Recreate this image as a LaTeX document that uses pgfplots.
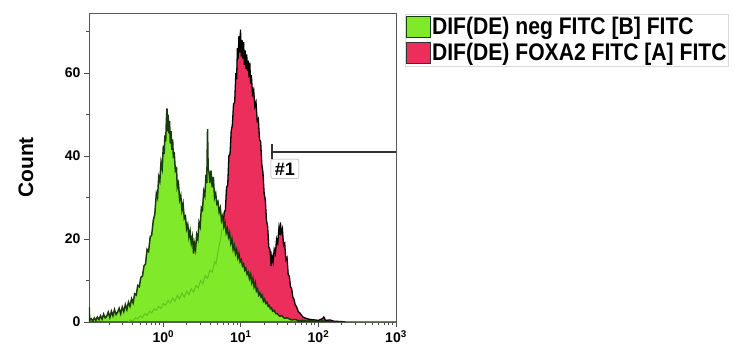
\documentclass[border=0pt]{standalone}
\usepackage{fontspec}
\setmainfont{Liberation Sans}
\newfontfamily\condsans{Liberation Sans}[FakeStretch=0.88]
\usepackage{pgfplots}
\pgfplotsset{compat=1.18}
\usepackage{pgfplotstable}
\definecolor{fgreen}{RGB}{128,234,42}
\definecolor{fgreenline}{RGB}{26,60,12}
\definecolor{fgreenfaint}{RGB}{96,196,30}
\definecolor{fred}{RGB}{236,46,92}

% log10 of FITC intensity (L) and count (v)
\pgfplotstableread{
L v
-0.958 0
-0.955 3.5
-0.950 0.4
-0.93 0.8
-0.91 0.3
-0.89 1.0
-0.87 0.4
-0.85 1.2
-0.83 0.6
-0.81 1.5
-0.79 0.7
-0.77 1.9
-0.75 1.0
-0.73 1.4
-0.71 2.4
-0.69 1.1
-0.67 2.6
-0.65 1.5
-0.63 3.0
-0.61 1.8
-0.59 2.4
-0.57 3.3
-0.55 2.0
-0.53 3.6
-0.51 2.5
-0.49 4.2
-0.47 3.0
-0.45 4.8
-0.43 3.8
-0.41 5.6
-0.39 4.6
-0.37 6.8
-0.35 6.5
-0.33 8.8
-0.31 8.5
-0.29 10.8
-0.27 11.0
-0.25 13.5
-0.23 14.0
-0.21 17.5
-0.19 17.0
-0.17 20.5
-0.15 21.0
-0.13 24.5
-0.11 26.0
-0.09 31.0
-0.075 30.0
-0.06 35.0
-0.045 34.0
-0.03 38.5
-0.015 37.0
0.00 42.5
0.01 40.5
0.02 45.0
0.03 43.5
0.04 49.0
0.047 51.5
0.055 46.0
0.062 50.0
0.07 45.5
0.08 48.5
0.09 43.0
0.10 46.0
0.11 41.5
0.12 44.0
0.13 39.5
0.14 41.0
0.155 36.5
0.17 37.0
0.18 32.5
0.195 33.5
0.21 29.5
0.225 30.5
0.24 27.0
0.255 28.5
0.27 25.0
0.285 25.5
0.30 22.5
0.315 23.5
0.33 20.5
0.345 22.0
0.36 19.0
0.375 20.5
0.39 16.5
0.40 19.0
0.415 17.5
0.43 21.0
0.445 20.0
0.46 24.0
0.475 23.0
0.49 27.5
0.505 27.0
0.52 31.5
0.535 30.5
0.55 35.5
0.56 33.5
0.57 46.5
0.578 37.0
0.59 36.0
0.60 33.5
0.615 36.5
0.63 32.5
0.645 35.0
0.66 30.0
0.675 31.0
0.69 28.5
0.705 29.0
0.72 26.5
0.735 27.5
0.75 24.5
0.765 25.5
0.78 23.0
0.795 24.0
0.81 21.5
0.825 22.5
0.84 20.5
0.855 21.5
0.87 19.0
0.885 20.0
0.90 17.5
0.915 18.5
0.93 16.5
0.945 17.5
0.96 15.5
0.975 16.5
0.99 14.5
1.005 15.0
1.02 13.5
1.035 14.0
1.05 12.5
1.065 13.0
1.08 11.5
1.095 12.0
1.11 10.5
1.125 11.5
1.14 9.5
1.155 10.5
1.17 8.5
1.185 9.5
1.20 7.5
1.215 8.0
1.23 6.5
1.245 7.0
1.26 6.0
1.275 6.5
1.29 5.0
1.305 5.5
1.32 4.5
1.335 4.8
1.35 3.8
1.365 4.0
1.38 3.2
1.395 3.4
1.41 2.6
1.43 2.8
1.45 2.0
1.47 2.0
1.50 1.4
1.53 1.5
1.56 0.9
1.60 1.0
1.65 0.5
1.70 0.6
1.75 0.3
1.80 0.4
1.85 0.2
1.90 0.3
2.00 0.1
2.05 0.3
2.10 0.1
2.20 0
3.00 0
}\greendata

\pgfplotstableread{
L v
-0.45 0
-0.42 0.5
-0.39 0.3
-0.36 1.0
-0.33 0.7
-0.30 1.5
-0.27 1.1
-0.24 2.0
-0.21 1.6
-0.18 2.6
-0.15 2.2
-0.12 3.2
-0.09 2.8
-0.06 3.8
-0.03 3.3
0.00 4.5
0.03 4.0
0.06 5.2
0.09 4.6
0.12 5.8
0.15 5.0
0.18 6.4
0.21 5.6
0.24 7.0
0.27 6.0
0.30 7.4
0.33 6.6
0.36 8.0
0.39 7.2
0.42 8.8
0.45 8.2
0.48 10.0
0.51 9.2
0.54 11.2
0.57 10.5
0.60 12.5
0.63 12.0
0.66 14.5
0.68 14.0
0.70 16.5
0.72 18.5
0.74 20.0
0.755 22.5
0.77 23.0
0.785 26.5
0.80 27.0
0.815 32.5
0.83 33.0
0.845 40.0
0.86 40.5
0.875 46.0
0.89 47.5
0.905 52.5
0.92 53.0
0.935 60.0
0.945 58.5
0.955 66.0
0.965 63.5
0.975 69.0
0.985 65.0
0.995 70.5
1.005 64.0
1.015 68.0
1.025 63.5
1.035 67.5
1.045 62.0
1.055 65.5
1.065 61.0
1.075 64.5
1.085 60.5
1.095 63.0
1.105 59.0
1.115 62.5
1.125 57.5
1.135 59.5
1.15 55.0
1.165 56.0
1.18 52.0
1.195 53.0
1.21 48.5
1.225 49.0
1.24 44.0
1.255 43.5
1.27 38.0
1.285 36.0
1.30 31.0
1.315 29.5
1.33 24.5
1.345 23.0
1.36 18.0
1.375 17.5
1.39 13.5
1.40 16.0
1.415 14.5
1.43 17.5
1.445 16.5
1.46 20.0
1.475 19.0
1.49 22.5
1.50 21.0
1.51 24.0
1.52 21.5
1.535 22.5
1.55 18.5
1.565 19.0
1.58 15.0
1.595 15.5
1.61 11.5
1.625 11.0
1.64 8.5
1.655 8.0
1.67 6.0
1.685 5.5
1.70 4.2
1.72 3.6
1.74 2.5
1.76 2.2
1.80 1.2
1.85 0.8
1.90 0.6
1.95 0.5
2.00 0.4
2.05 0.8
2.07 1.2
2.09 0.4
2.15 0.5
2.20 0.2
2.30 0.1
2.35 0
}\reddata

\begin{document}
\begin{tikzpicture}
\useasboundingbox (-89bp,-27bp) rectangle (653bp,322bp);
\begin{axis}[
  at={(0,0)}, anchor=south west,
  scale only axis, width=307bp, height=309bp,
  xmode=log, xmin=0.11, xmax=1000, ymin=0, ymax=74.5,
  xtick={1,10,100,1000},
  xticklabels={10\textsuperscript{0},10\textsuperscript{1},10\textsuperscript{2},10\textsuperscript{3}},
  minor xtick={0.2,0.3,0.4,0.5,0.6,0.7,0.8,0.9,2,3,4,5,6,7,8,9,20,30,40,50,60,70,80,90,200,300,400,500,600,700,800,900},
  ytick={0,20,40,60}, yticklabels={0,20,40,60},
  minor ytick={10,30,50,70},
  xtick pos=bottom, ytick pos=left,
  tick align=outside, major tick length=5bp, minor tick length=3bp,
  axis line style={black!65, line width=0.8bp},
  tick style={black!70, line width=0.8bp},
  ticklabel style={font=\fontsize{14bp}{14bp}\selectfont\bfseries},
  ylabel={Count},
  every axis y label/.style={at={([xshift=-63bp]rel axis cs:0,0.5)}, rotate=90, anchor=center,
    font=\fontsize{21bp}{21bp}\selectfont\bfseries},
  legend style={at={(rel axis cs:1,1)}, anchor=north west, xshift=9bp, yshift=-1bp,
    draw=black!15, line width=0.6bp, fill=white, inner xsep=1bp, inner ysep=2bp,
    row sep=4bp, font=\condsans\fontsize{24bp}{28bp}\selectfont\bfseries,
    cells={anchor=west}, nodes={inner xsep=1bp, inner ysep=0bp}},
  legend image code/.code={\draw[#1] (0bp,-11bp) rectangle (24bp,10bp);},
]
\addplot[fill=fred, draw=black, line width=1.3bp, forget plot]
  table[x expr={10^(\thisrow{L})}, y=v] {\reddata} \closedcycle;
\addplot[fill=fgreen, draw=fgreenline, line width=1.5bp, forget plot]
  table[x expr={10^(\thisrow{L})}, y=v] {\greendata} \closedcycle;
\addplot[draw=fgreenfaint, line width=1bp, forget plot,
  restrict expr to domain={\thisrow{L}}{-1:0.76}]
  table[x expr={10^(\thisrow{L})}, y=v] {\reddata};
% gate #1
\addplot[black!80, line width=1.2bp, forget plot] coordinates {(25.2,41) (1000,41)};
\addplot[black!80, line width=1.2bp, forget plot] coordinates {(25.2,39.4) (25.2,42.8)};
\node[draw=black!35, rounded corners=2bp, fill=white, anchor=north west,
  inner xsep=4bp, inner ysep=3.5bp,
  font=\fontsize{18bp}{18bp}\selectfont\bfseries] at (axis cs:24.2,39.3) {\#1};
\addlegendimage{fill=fgreen, draw=fgreenline, line width=0.8bp}
\addlegendentry{DIF(DE) neg FITC [B] FITC}
\addlegendimage{fill=fred, draw=black!80, line width=0.8bp}
\addlegendentry{DIF(DE) FOXA2 FITC [A] FITC}
\end{axis}
\end{tikzpicture}
\end{document}
